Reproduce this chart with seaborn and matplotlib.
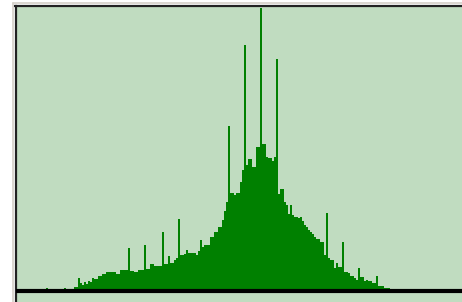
import numpy as np
import matplotlib
matplotlib.use("Agg")
import matplotlib.pyplot as plt
from matplotlib.lines import Line2D
import seaborn as sns

# histogram counts, one per intensity level
counts = [
    0, 3, 0, 0, 0, 0, 0, 0, 0, 0,
    3, 2, 2, 2, 2, 4, 4, 13, 8, 6,
    9, 7, 10, 9, 13, 12, 12, 15, 15, 17,
    17, 19, 19, 19, 19, 19, 17, 17, 21, 21,
    21, 21, 43, 20, 20, 19, 19, 21, 21, 21,
    46, 22, 22, 27, 27, 25, 25, 25, 25, 59,
    27, 27, 35, 28, 28, 31, 33, 72, 36, 36,
    37, 41, 38, 38, 38, 38, 36, 40, 51, 44,
    46, 46, 46, 54, 54, 59, 59, 64, 64, 71,
    80, 89, 165, 98, 98, 96, 98, 98, 109, 121,
    246, 126, 132, 132, 124, 124, 144, 144, 283, 147,
    147, 134, 133, 133, 130, 134, 232, 97, 102, 102,
    89, 86, 77, 86, 76, 74, 74, 73, 74, 70,
    66, 64, 61, 59, 57, 54, 52, 52, 49, 49,
    36, 78, 33, 31, 31, 23, 28, 24, 24, 49,
    19, 19, 18, 15, 15, 13, 11, 23, 14, 14,
    10, 11, 10, 10, 8, 8, 15, 5, 5, 5,
    3, 3, 3, 2,
]
levels = np.arange(len(counts))

BG = "#C0DCC0"
BAR = "#008000"

sns.set_style("white")
fig = plt.figure(figsize=(4.62, 3.02), dpi=100)
fig.patch.set_facecolor("white")
ax = fig.add_axes([15.5 / 462, 0, 446.5 / 462, 296 / 302])
ax.set_facecolor(BG)

sns.histplot(x=levels, weights=counts, discrete=True, element="step",
             fill=True, color=BAR, alpha=1, linewidth=0, ax=ax)

ax.axhline(0, color="black", lw=3.0, zorder=5)
ax.set_xlim(-14.5, 208.5)
ax.set_ylim(-11, 285)
ax.set_xticks([])
ax.set_yticks([])
ax.set_xlabel("")
ax.set_ylabel("")

for side in ["right", "bottom"]:
    ax.spines[side].set_visible(False)
for side in ["left", "top"]:
    ax.spines[side].set_color("#222222")
    ax.spines[side].set_linewidth(1.6)

# light bevel line outside the frame
fig.add_artist(Line2D([12.5 / 462, 12.5 / 462], [0, 299.5 / 302],
                      transform=fig.transFigure, color="#D4D0C8", lw=1.2))
fig.add_artist(Line2D([12.5 / 462, 1], [299.5 / 302, 299.5 / 302],
                      transform=fig.transFigure, color="#D4D0C8", lw=1.2))

fig.savefig("out.png", dpi=100, facecolor=fig.get_facecolor())
